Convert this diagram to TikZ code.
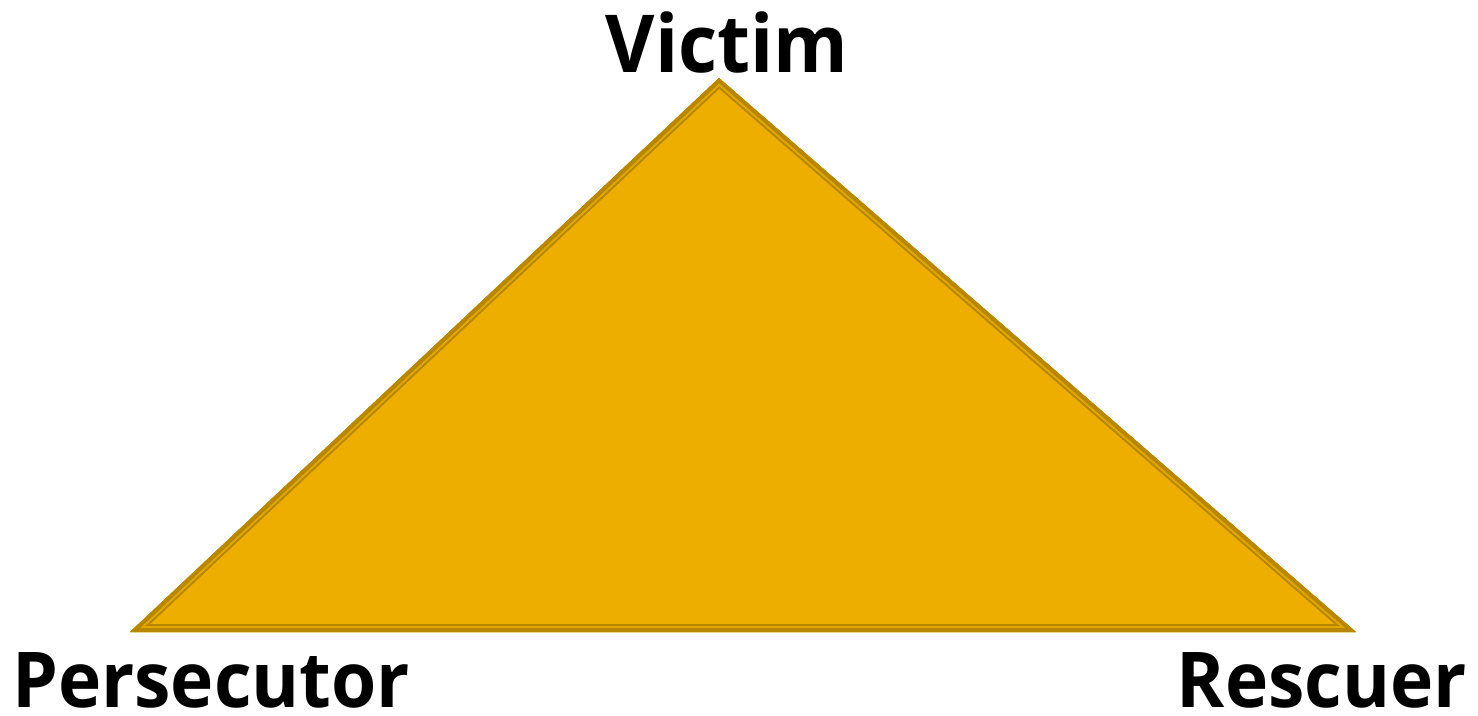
\documentclass[tikz,border=0pt]{standalone}
\usepackage{fontspec}
\setmainfont[FakeStretch=0.95]{Open Sans}
\definecolor{gold}{RGB}{237,174,0}
\definecolor{golddark}{RGB}{184,135,0}
\definecolor{goldlight}{RGB}{226,166,0}
\tikzset{lbl/.style={font=\bfseries\fontsize{77}{77}\selectfont, text=black, inner sep=0pt}}
\begin{document}
\begin{tikzpicture}[x=1pt,y=-1pt]
\useasboundingbox (0,0) rectangle (1478,715);
\coordinate (A) at (719,78);
\coordinate (B) at (130,632);
\coordinate (C) at (1356,632);
\begin{scope}
\clip (A) -- (B) -- (C) -- cycle;
\fill[gold] (A) -- (B) -- (C) -- cycle;
\draw[golddark, line width=16pt, line join=miter] (A) -- (B) -- (C) -- cycle;
\draw[goldlight, line width=12pt, line join=miter] (A) -- (B) -- (C) -- cycle;
\draw[golddark, line width=8pt, line join=miter] (A) -- (B) -- (C) -- cycle;
\end{scope}
\node[lbl, anchor=base, font=\bfseries\fontsize{80}{80}\selectfont] (v) at (727,72) {Victim};
\node[lbl, anchor=base west] (p) at (12,707) {Persecutor};
\node[lbl, anchor=base east] (r) at (1467,707) {Rescuer};
\end{tikzpicture}
\end{document}
